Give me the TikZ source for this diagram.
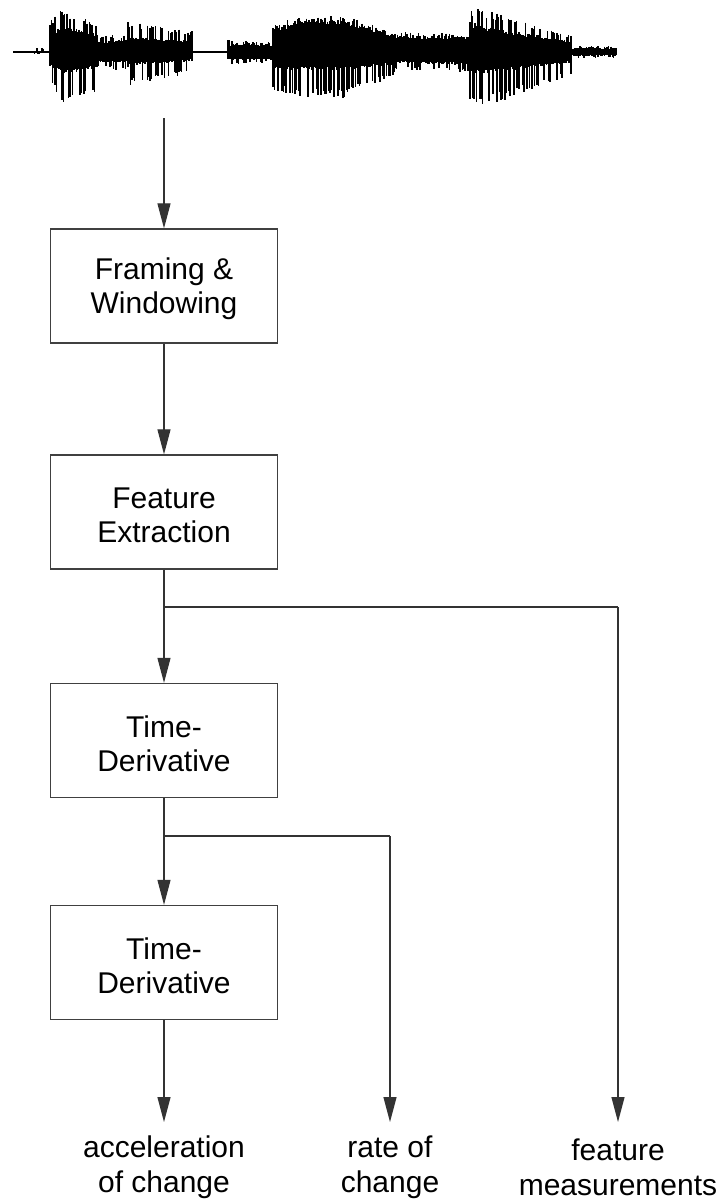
\documentclass[tikz,border=0pt]{standalone}
\usepackage{fontspec}
\setmainfont{Liberation Sans}
\usetikzlibrary{arrows.meta}
\begin{document}
\begin{tikzpicture}[x=1pt,y=-1pt,
  stagebox/.style={draw=black!75,line width=1.3pt,minimum width=227pt,minimum height=114pt,
    align=center,inner sep=0pt,font=\fontsize{30}{34}\selectfont},
  stagetext/.style={align=center,inner sep=0pt,font=\fontsize{30}{34}\selectfont},
  outlabel/.style={align=center,inner sep=0pt,font=\fontsize{30}{35}\selectfont},
  flow/.style={draw=black!80,line width=1.2pt,-{Triangle[length=25pt,width=13pt]}},
  wire/.style={draw=black!80,line width=1.2pt}]
\useasboundingbox (0,0) rectangle (721,1202);

% speech waveform: baseline plus vertical strokes inside piecewise envelopes
\draw[line width=1.8pt] (13,52) -- (617,52);
\pgfmathsetseed{11}
\foreach \xa/\xb/\ta/\tb/\sa/\sb/\ba/\bb/\pa/\pb/\q in {
  33/48/1/1/4/4/1/1/2/2/0.2,
  50/62/16/27/32/43/14/23/27/50/0.45,
  62/98/27/18/43/29/23/16/52/40/0.45,
  98/128/11/13/17/17/11/11/17/19/0.35,
  128/192/16/11/30/21/14/9/34/21/0.4,
  228/272/8/8/12/10/8/8/13/10/0.35,
  273/300/24/34/26/37/18/18/40/44/0.5,
  300/345/35/35/37/37/18/18/46/46/0.5,
  345/395/34/18/36/21/18/13/44/25/0.5,
  395/468/16/16/20/18/11/13/17/21/0.35,
  470/480/30/30/46/44/22/22/55/57/0.45,
  480/572/27/11/44/17/22/11/57/23/0.45,
  572/617/4/4/6/6/4/4/6/6/0.3}{
  \pgfmathtruncatemacro\n{(\xb-\xa)/1.3}
  \foreach \i in {0,...,\n}{
    \pgfmathsetmacro\f{\i/max(\n,1)}
    \pgfmathsetmacro\x{\xa+\i*1.3}
    \pgfmathsetmacro\tt{(\ta+(\tb-\ta)*\f)*(0.8+0.2*rnd)}
    \pgfmathsetmacro\ss{(\sa+(\sb-\sa)*\f)*(0.8+0.2*rnd)}
    \pgfmathsetmacro\up{rnd<\q ? \ss : \tt}
    \pgfmathsetmacro\bt{(\ba+(\bb-\ba)*\f)*(0.8+0.2*rnd)}
    \pgfmathsetmacro\bs{(\pa+(\pb-\pa)*\f)*(0.8+0.2*rnd)}
    \pgfmathsetmacro\dn{rnd<\q ? \bs : \bt}
    \draw[line width=1.6pt] (\x,52-\up) -- (\x,52+\dn);
  }
}

\coordinate (sig) at (164,118);

% processing stages (frame drawn by the node, text set slightly low as printed)
\node[stagebox] (frame) at (164,286) {};
\node[stagebox] (feat)  at (164,512) {};
\node[stagebox] (td1)   at (164,740.5) {};
\node[stagebox] (td2)   at (164,962.5) {};
\node[stagetext] (frameT) at ([yshift=-3pt]frame.center) {Framing \&\\Windowing};
\node[stagetext] (featT)  at ([yshift=-3pt]feat.center) {Feature\\Extraction};
\node[stagetext] (td1T)   at ([yshift=-3pt]td1.center) {Time-\\Derivative};
\node[stagetext] (td2T)   at ([yshift=-3pt]td2.center) {Time-\\Derivative};

% outputs
\node[outlabel] (acc)  at (164,1167) {acceleration\\of change};
\node[outlabel] (rate) at (390,1167) {rate of\\change};
\node[outlabel] (meas) at (618,1167) {feature\\measurements};

\coordinate (b1) at (164,607);
\coordinate (b2) at (164,836);
\coordinate (accend)  at (164,1122);
\coordinate (rateend) at (390,1122);
\coordinate (measend) at (618,1122);

\draw[flow] (sig) -- (frame.north);
\draw[flow] (frame.south) -- (feat.north);
\draw[flow] (feat.south) -- (td1.north);
\draw[flow] (td1.south) -- (td2.north);
\draw[flow] (td2.south) -- (accend);
\draw[wire] (b1) -| (measend |- b1);
\draw[flow] (measend |- b1) -- (measend);
\draw[wire] (b2) -| (rateend |- b2);
\draw[flow] (rateend |- b2) -- (rateend);
\end{tikzpicture}
\end{document}
